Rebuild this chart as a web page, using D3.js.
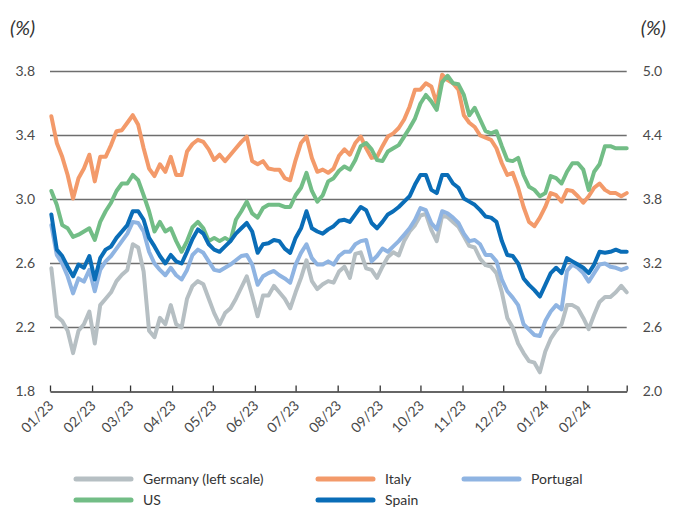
<!DOCTYPE html>
<html><head><meta charset="utf-8">
<script src="https://cdn.jsdelivr.net/npm/d3@7"></script>
<style>
body{margin:0;background:#fff;}
svg{display:block;font-family:Lato,'Open Sans',sans-serif;}
</style></head><body>
<svg id="chart" width="678" height="509"></svg>
<script>
const firstDate = "2023-01-02";
const stepDays = 4;
const tickLabels = ["01/23","02/23","03/23","04/23","05/23","06/23","07/23","08/23","09/23","10/23","11/23","12/23","01/24","02/24"];
const leftTicks = [1.8, 2.2, 2.6, 3.0, 3.4, 3.8];
const rightTicks = [2.0, 2.6, 3.2, 3.8, 4.4, 5.0];

const germany = [
2.57,2.27,2.24,2.18,2.04,2.18,2.22,2.30,2.10,2.34,
2.38,2.42,2.49,2.53,2.56,2.72,2.70,2.55,2.18,2.14,
2.26,2.22,2.34,2.22,2.20,2.38,
2.46,
2.49,2.47,2.38,2.29,2.22,2.29,2.32,2.38,2.45,2.52,
2.40,2.27,2.40,2.40,2.46,2.42,2.38,2.32,2.42,2.51,
2.62,2.49,2.44,2.47,2.49,2.48,
2.55,
2.58,2.51,2.66,2.67,2.57,2.56,2.51,2.58,2.64,2.67,
2.65,2.74,2.80,2.84,2.90,2.91,2.81,2.74,2.90,2.89,
2.86,2.83,2.77,2.71,2.70,
2.63,2.59,
2.58,2.54,2.42,2.26,2.20,2.10,2.04,1.99,1.98,1.92,
2.05,2.13,2.18,2.22,2.34,2.34,2.32,2.26,2.19,2.28,
2.36,2.39,2.39,2.42,2.46,2.42];

const italy = [
4.58,4.33,4.20,4.03,3.81,4.00,4.09,4.22,3.97,4.20,
4.20,4.31,4.44,4.45,4.52,4.59,4.50,4.28,4.09,4.02,
4.13,4.06,4.20,4.03,4.03,4.25,
4.32,
4.36,4.34,4.27,4.17,4.22,4.16,4.22,4.28,4.34,4.39,
4.16,4.13,4.16,4.09,4.08,4.08,4.00,3.98,4.17,4.33,
4.39,4.19,4.06,4.08,4.05,4.09,
4.21,
4.27,4.22,4.33,4.39,4.28,4.19,4.20,4.30,4.39,4.42,
4.47,4.55,4.67,4.83,4.83,4.89,4.86,4.70,4.97,4.92,
4.89,4.83,4.59,4.52,4.48,
4.40,4.38,
4.36,4.28,4.14,4.03,4.05,3.91,3.73,3.59,3.55,3.63,
3.73,3.86,3.84,3.78,3.89,3.88,3.83,3.77,3.83,3.91,
3.95,3.89,3.86,3.86,3.83,3.86];

const portugal = [
3.56,3.28,3.20,3.08,2.92,3.06,3.03,3.14,2.94,3.14,
3.22,3.27,3.34,3.41,3.48,3.59,3.58,3.50,3.31,3.20,
3.14,3.09,3.16,3.09,3.05,3.14,
3.28,
3.33,3.30,3.22,3.14,3.13,3.16,3.19,3.23,3.27,3.28,
3.19,3.00,3.08,3.11,3.13,3.09,3.06,3.02,3.19,3.30,
3.38,3.25,3.19,3.19,3.22,3.19,
3.27,
3.31,3.31,3.38,3.41,3.42,3.22,3.27,3.34,3.31,3.36,
3.41,3.47,3.53,3.61,3.72,3.70,3.58,3.52,3.69,3.67,
3.63,3.58,3.48,3.41,3.42,
3.38,3.28,
3.28,3.22,3.05,2.94,2.88,2.81,2.63,2.58,2.53,2.52,
2.66,2.75,2.81,2.77,3.13,3.19,3.16,3.11,3.03,3.11,
3.19,3.20,3.17,3.16,3.14,3.16];

const us = [
3.88,3.75,3.56,3.53,3.45,3.47,3.50,3.53,3.42,3.59,
3.69,3.77,3.88,3.95,3.95,4.03,3.98,3.84,3.69,3.50,
3.59,3.50,3.53,3.41,3.31,3.41,
3.54,
3.59,3.53,3.41,3.44,3.41,3.44,3.41,3.61,3.69,3.78,
3.67,3.63,3.72,3.75,3.75,3.75,3.73,3.73,3.84,3.91,
4.05,3.88,3.78,3.84,3.97,4.00,
4.07,
4.11,4.08,4.17,4.30,4.33,4.27,4.17,4.16,4.25,4.28,
4.31,4.39,4.47,4.56,4.70,4.78,4.72,4.64,4.90,4.96,
4.89,4.88,4.78,4.59,4.66,
4.55,4.44,
4.42,4.44,4.30,4.17,4.16,4.19,4.03,3.92,3.89,3.83,
3.86,4.02,4.00,3.95,4.06,4.14,4.14,4.08,3.89,4.06,
4.13,4.30,4.30,4.28,4.28,4.28];

const spain = [
3.66,3.33,3.27,3.17,3.08,3.19,3.16,3.27,3.05,3.25,
3.33,3.36,3.44,3.50,3.56,3.69,3.69,3.61,3.44,3.36,
3.27,3.20,3.28,3.22,3.20,3.31,
3.43,
3.52,3.48,3.38,3.33,3.31,3.36,3.41,3.48,3.53,3.58,
3.50,3.30,3.38,3.39,3.42,3.41,3.34,3.30,3.44,3.53,
3.69,3.53,3.50,3.48,3.52,3.55,
3.60,
3.61,3.59,3.66,3.73,3.70,3.58,3.53,3.59,3.66,3.69,
3.73,3.78,3.83,3.94,4.03,4.03,3.89,3.86,4.03,4.03,
3.95,3.91,3.81,3.78,3.75,
3.70,3.64,
3.63,3.59,3.41,3.28,3.27,3.20,3.06,3.00,2.95,2.89,
3.00,3.11,3.16,3.11,3.25,3.22,3.19,3.16,3.11,3.19,
3.31,3.30,3.31,3.33,3.31,3.31];

// ---- layout ----
const svg = d3.select("#chart");
const X0 = 50, X1 = 626.7, YT = 71.5, YB = 391.5;
const parse = d3.timeParse("%Y-%m-%d");
const d0 = parse(firstDate);
const dates = germany.map((_, i) => d3.timeDay.offset(d0, i * stepDays));

const x = d3.scaleTime().domain([new Date(2023,0,1), new Date(2024,2,1)]).range([X0, X1]);
const yL = d3.scaleLinear().domain([1.8, 3.8]).range([YB, YT]);
const yR = d3.scaleLinear().domain([2.0, 5.0]).range([YB, YT]);

// gridlines
svg.append("g").selectAll("line").data(leftTicks.slice(1)).join("line")
  .attr("x1", X0).attr("x2", X1).attr("y1", d => yL(d)).attr("y2", d => yL(d))
  .attr("stroke", "#6e6e6e").attr("stroke-width", 1.3);

// left axis labels
const gL = svg.append("g").attr("transform", `translate(${X0},0)`)
  .call(d3.axisLeft(yL).tickValues(leftTicks).tickSize(0).tickPadding(15).tickFormat(d3.format(".1f")));
gL.select(".domain").remove();
gL.selectAll("text").attr("font-size", 14).attr("fill", "#4a4a4a").attr("font-family", "Lato,'Open Sans',sans-serif");

const gR = svg.append("g").attr("transform", `translate(${X1},0)`)
  .call(d3.axisRight(yR).tickValues(rightTicks).tickSize(0).tickPadding(16).tickFormat(d3.format(".1f")));
gR.select(".domain").remove();
gR.selectAll("text").attr("font-size", 14).attr("fill", "#4a4a4a").attr("font-family", "Lato,'Open Sans',sans-serif");

// unit labels
svg.append("text").attr("x", 10).attr("y", 35).text("(%)")
  .attr("font-size", 20).attr("font-style", "italic").attr("fill", "#333");
svg.append("text").attr("x", 666).attr("y", 35).attr("text-anchor", "end").text("(%)")
  .attr("font-size", 20).attr("font-style", "italic").attr("fill", "#333");

// series
const series = [
  {name: "Germany (left scale)", values: germany, color: "#b6bfc3", scale: yL},
  {name: "Italy", values: italy, color: "#f39a6a", scale: yR},
  {name: "Portugal", values: portugal, color: "#8fb4e2", scale: yR},
  {name: "US", values: us, color: "#72bd86", scale: yR},
  {name: "Spain", values: spain, color: "#0a6db7", scale: yR}
];
series.forEach(s => {
  const line = d3.line().x((d, i) => x(dates[i])).y(d => s.scale(d));
  svg.append("path").datum(s.values).attr("d", line)
    .attr("fill", "none").attr("stroke", s.color).attr("stroke-width", 4)
    .attr("stroke-linejoin", "round").attr("stroke-linecap", "round");
});

// x axis
const monthTicks = d3.timeMonth.range(new Date(2023,0,1), new Date(2024,2,2));
const gX = svg.append("g").attr("transform", `translate(0,${YB})`)
  .call(d3.axisBottom(x).tickValues(monthTicks).tickSizeInner(-6).tickSizeOuter(0)
    .tickFormat((d, i) => tickLabels[i] || ""));
gX.select(".domain").attr("stroke", "#333").attr("stroke-width", 1.6);
gX.selectAll(".tick line").attr("stroke", "#333").attr("stroke-width", 1.3);
gX.selectAll("text").attr("font-size", 14).attr("fill", "#4a4a4a")
  .attr("font-family", "Lato,'Open Sans',sans-serif")
  .attr("text-anchor", "end").attr("transform", "translate(2,10) rotate(-45)")
  .attr("dy", "0.35em").attr("dx", "-2").attr("y", 0);

// legend
const legendPos = [
  {s: 0, x: 76, y: 479}, {s: 1, x: 318, y: 479}, {s: 2, x: 464, y: 479},
  {s: 3, x: 76, y: 500}, {s: 4, x: 318, y: 500}
];
const lg = svg.append("g").selectAll("g").data(legendPos).join("g")
  .attr("transform", d => `translate(${d.x},${d.y})`);
lg.append("line").attr("x1", 0).attr("x2", 55).attr("y1", 0).attr("y2", 0)
  .attr("stroke", d => series[d.s].color).attr("stroke-width", 5).attr("stroke-linecap", "round");
lg.append("text").attr("x", 67).attr("y", 5).text(d => series[d.s].name)
  .attr("font-size", 14).attr("fill", "#333");
</script>
</body></html>
